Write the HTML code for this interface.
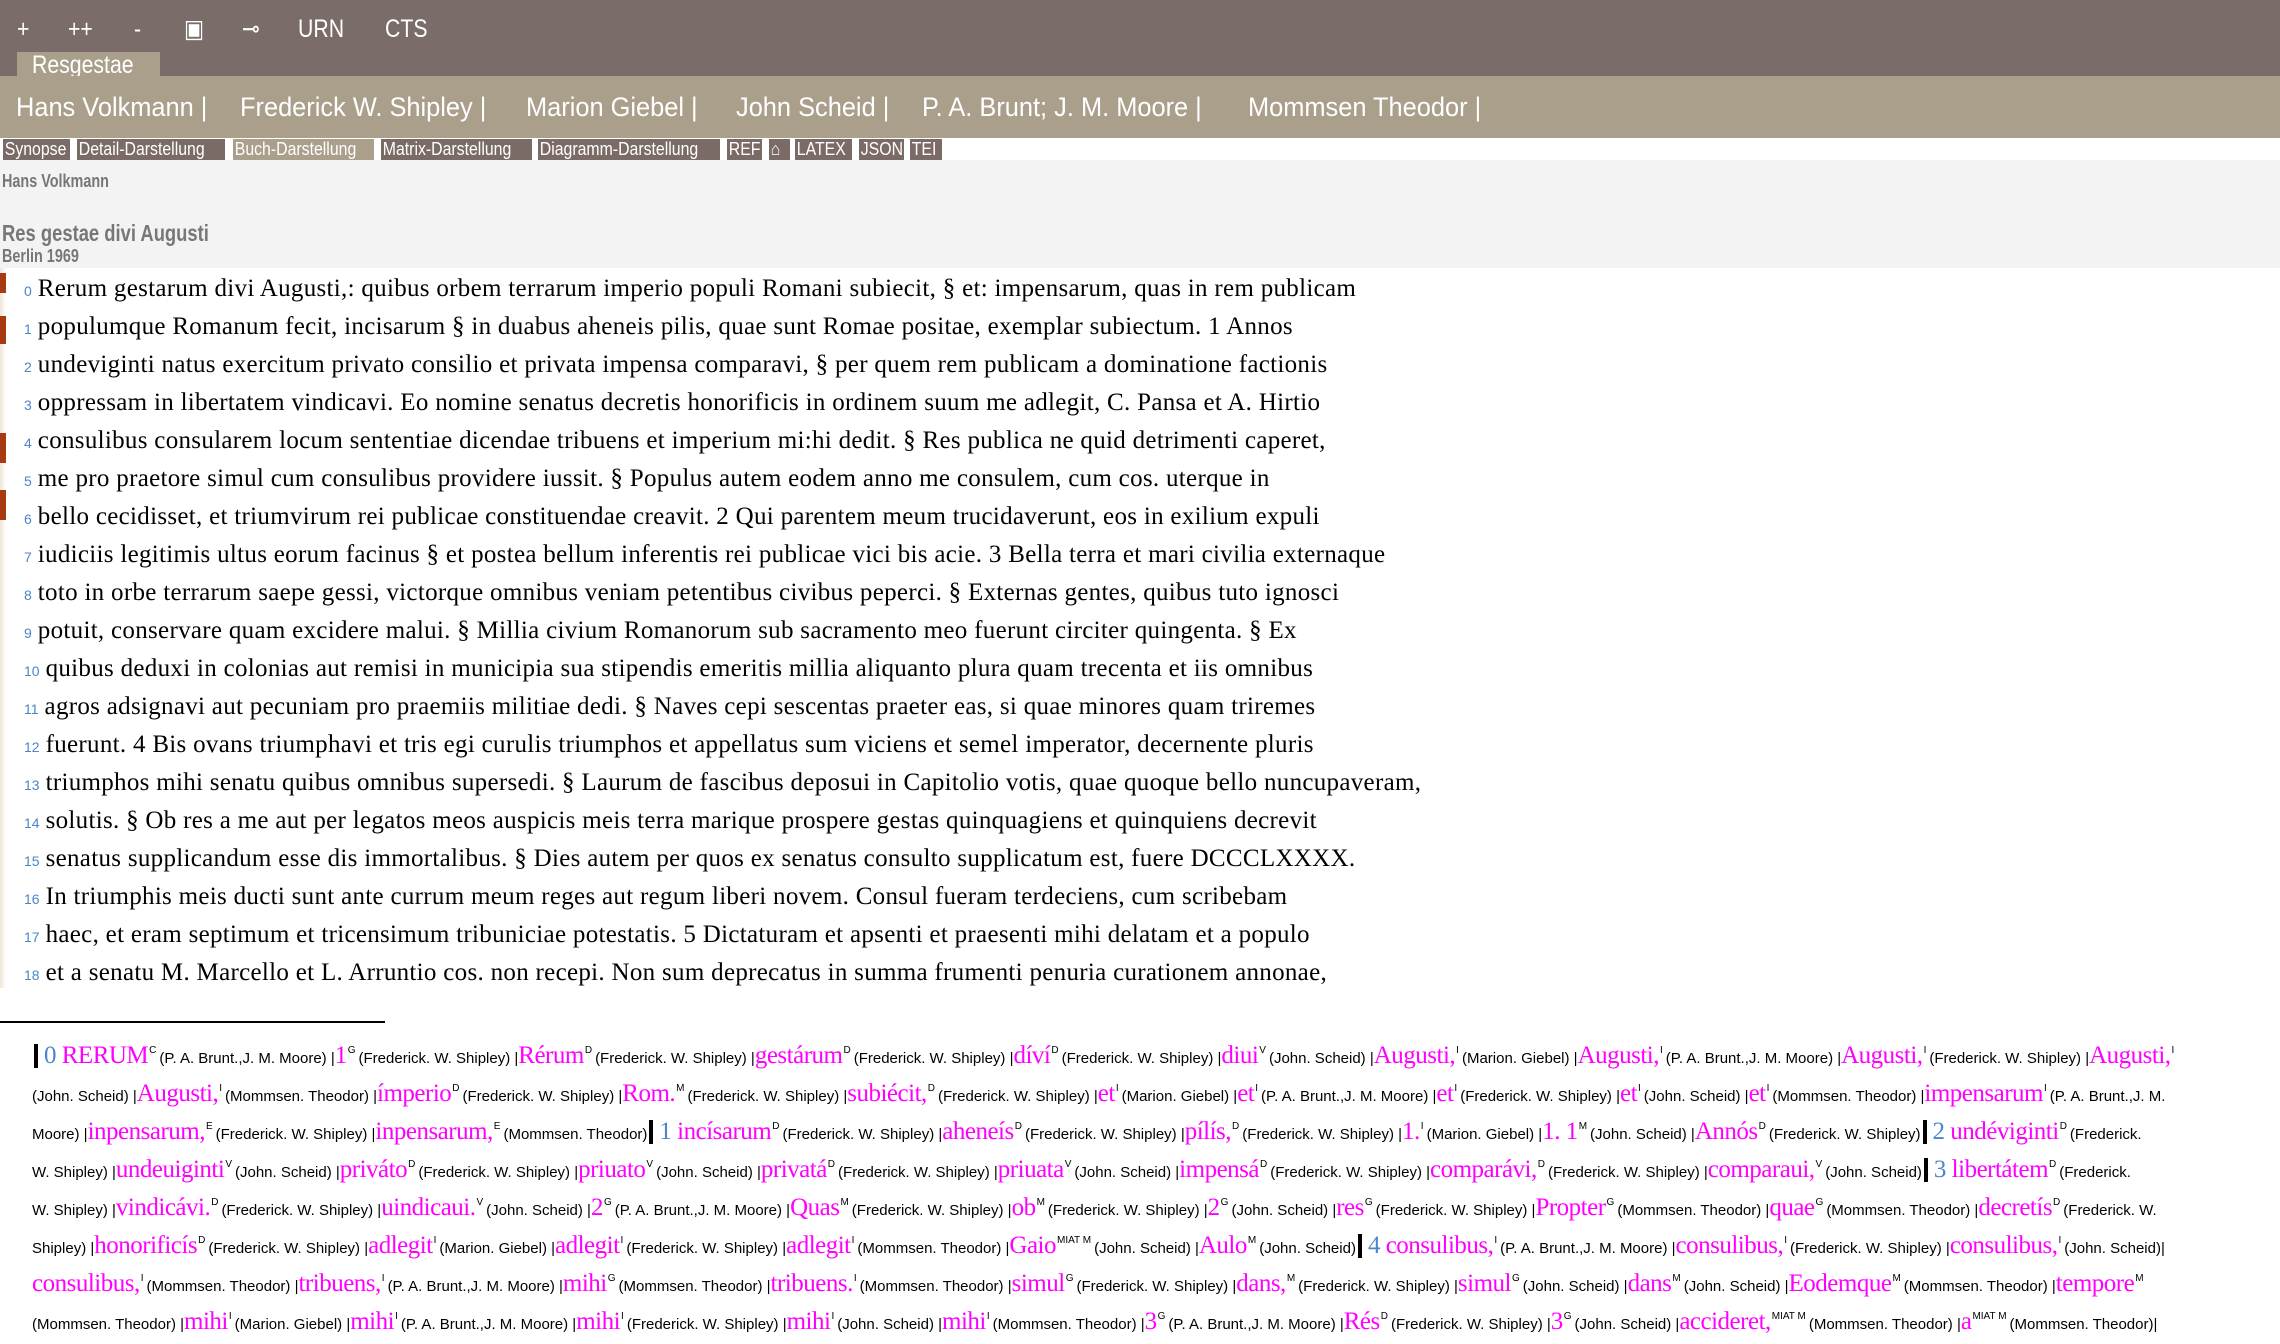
<!DOCTYPE html>
<html><head><meta charset="utf-8"><style>
*{margin:0;padding:0;box-sizing:border-box}
body{width:2280px;height:1336px;overflow:hidden;background:#fff;font-family:"Liberation Sans",sans-serif;position:relative}
.top{position:absolute;left:0;top:0;width:2280px;height:76px;background:#7a6c68}
.t{position:absolute;color:#fff;font-family:"Liberation Sans",sans-serif;font-size:25px;line-height:30px;transform:scaleX(.85);transform-origin:left}
.tab{position:absolute;left:17px;top:52px;width:143px;height:24px;background:#aa9f8b}
.auth{position:absolute;left:0;top:76px;width:2280px;height:62px;background:#aa9f8b}
.a{position:absolute;top:91px;color:#fff;font-family:"Liberation Sans",sans-serif;font-size:27px;line-height:32px;white-space:nowrap;transform:scaleX(.94);transform-origin:left}
.btns{position:absolute;left:0;top:138px;width:2280px;height:22px;background:#fff}
.b{position:absolute;top:139px;height:21px;background:#7b6b67;color:#fff;font-size:18px;line-height:21px;white-space:nowrap;overflow:hidden}
.b span{display:block;transform:scaleX(.88);transform-origin:left;padding-left:2px}
.grey{position:absolute;left:0;top:160px;width:2280px;height:108px;background:#f4f3f3}
.g{position:absolute;left:2px;color:#777;white-space:nowrap;font-weight:bold;transform:scaleX(.8);transform-origin:left}
.main{position:absolute;left:0;top:268px;width:2280px;height:720px;background:linear-gradient(90deg,#efe6d6 0,#fff 6px)}
.l{position:absolute;font-family:"Liberation Serif",serif;font-size:25px;letter-spacing:0.3px;line-height:38px;white-space:nowrap;color:#000}
.l i{font-style:normal;font-family:"Liberation Sans",sans-serif;color:#4a86c8;font-size:14px;margin-right:6px;letter-spacing:0}
.rm{position:absolute;left:0;width:6px;background:#a83a12}
.hr{position:absolute;left:0;top:1021px;width:385px;height:2px;background:#000}
.f{position:absolute;left:32px;font-family:"Liberation Serif",serif;font-size:25px;line-height:38px;white-space:nowrap;color:#000;letter-spacing:-0.5px}
.f m{color:#f0f;}
.f s{text-decoration:none;font-family:"Liberation Sans",sans-serif;font-size:15px;letter-spacing:0}
.f sup{font-family:"Liberation Sans",sans-serif;font-size:10px;color:#000;vertical-align:10px;margin:0 3px 0 1px;letter-spacing:0}
.f u{text-decoration:none;color:#4a86c8}
.f b{display:inline-block;width:4px;height:24px;background:#000;vertical-align:-5px;margin:0 6px 0 2px}
</style></head><body>
<div class="top"></div>
<div class="t" style="left:17px;top:14px">+</div>
<div class="t" style="left:68px;top:14px">++</div>
<div class="t" style="left:134px;top:14px">-</div>
<div class="t" style="left:184px;top:14px">▣</div>
<div class="t" style="left:242px;top:14px">⊸</div>
<div class="t" style="left:298px;top:14px">URN</div>
<div class="t" style="left:385px;top:14px">CTS</div>
<div class="tab"></div>
<div class="t" style="left:32px;top:50px">Resgestae</div>
<div class="auth"></div>
<div class="a" style="left:16px">Hans Volkmann |</div>
<div class="a" style="left:240px">Frederick W. Shipley |</div>
<div class="a" style="left:526px">Marion Giebel |</div>
<div class="a" style="left:736px">John Scheid |</div>
<div class="a" style="left:922px">P. A. Brunt; J. M. Moore |</div>
<div class="a" style="left:1248px">Mommsen Theodor |</div>
<div class="btns"></div>
<div class="b" style="left:3px;width:67px"><span>Synopse</span></div>
<div class="b" style="left:77px;width:148px"><span>Detail-Darstellung</span></div>
<div class="b" style="left:233px;width:141px;background:#aa9f8b"><span>Buch-Darstellung</span></div>
<div class="b" style="left:381px;width:151px"><span>Matrix-Darstellung</span></div>
<div class="b" style="left:538px;width:182px"><span>Diagramm-Darstellung</span></div>
<div class="b" style="left:727px;width:35px"><span>REF</span></div>
<div class="b" style="left:769px;width:21px"><span>⌂</span></div>
<div class="b" style="left:795px;width:57px"><span>LATEX</span></div>
<div class="b" style="left:859px;width:45px"><span>JSON</span></div>
<div class="b" style="left:910px;width:32px"><span>TEI</span></div>
<div class="grey"></div>
<div class="g" style="top:171px;font-size:18px">Hans Volkmann</div>
<div class="g" style="top:220px;font-size:23px">Res gestae divi Augusti</div>
<div class="g" style="top:246px;font-size:18px">Berlin 1969</div>
<div class="main"></div>
<div class="rm" style="top:273px;height:20px"></div>
<div class="rm" style="top:316px;height:28px"></div>
<div class="rm" style="top:433px;height:30px"></div>
<div class="rm" style="top:490px;height:30px"></div>
<div class="l" style="left:24px;top:270px"><i>0</i>Rerum gestarum divi Augusti,: quibus orbem terrarum imperio populi Romani subiecit, § et: impensarum, quas in rem publicam</div>
<div class="l" style="left:24px;top:308px"><i>1</i>populumque Romanum fecit, incisarum § in duabus aheneis pilis, quae sunt Romae positae, exemplar subiectum. 1 Annos</div>
<div class="l" style="left:24px;top:346px"><i>2</i>undeviginti natus exercitum privato consilio et privata impensa comparavi, § per quem rem publicam a dominatione factionis</div>
<div class="l" style="left:24px;top:384px"><i>3</i>oppressam in libertatem vindicavi. Eo nomine senatus decretis honorificis in ordinem suum me adlegit, C. Pansa et A. Hirtio</div>
<div class="l" style="left:24px;top:422px"><i>4</i>consulibus consularem locum sententiae dicendae tribuens et imperium mi:hi dedit. § Res publica ne quid detrimenti caperet,</div>
<div class="l" style="left:24px;top:460px"><i>5</i>me pro praetore simul cum consulibus providere iussit. § Populus autem eodem anno me consulem, cum cos. uterque in</div>
<div class="l" style="left:24px;top:498px"><i>6</i>bello cecidisset, et triumvirum rei publicae constituendae creavit. 2 Qui parentem meum trucidaverunt, eos in exilium expuli</div>
<div class="l" style="left:24px;top:536px"><i>7</i>iudiciis legitimis ultus eorum facinus § et postea bellum inferentis rei publicae vici bis acie. 3 Bella terra et mari civilia externaque</div>
<div class="l" style="left:24px;top:574px"><i>8</i>toto in orbe terrarum saepe gessi, victorque omnibus veniam petentibus civibus peperci. § Externas gentes, quibus tuto ignosci</div>
<div class="l" style="left:24px;top:612px"><i>9</i>potuit, conservare quam excidere malui. § Millia civium Romanorum sub sacramento meo fuerunt circiter quingenta. § Ex</div>
<div class="l" style="left:24px;top:650px"><i>10</i>quibus deduxi in colonias aut remisi in municipia sua stipendis emeritis millia aliquanto plura quam trecenta et iis omnibus</div>
<div class="l" style="left:24px;top:688px"><i>11</i>agros adsignavi aut pecuniam pro praemiis militiae dedi. § Naves cepi sescentas praeter eas, si quae minores quam triremes</div>
<div class="l" style="left:24px;top:726px"><i>12</i>fuerunt. 4 Bis ovans triumphavi et tris egi curulis triumphos et appellatus sum viciens et semel imperator, decernente pluris</div>
<div class="l" style="left:24px;top:764px"><i>13</i>triumphos mihi senatu quibus omnibus supersedi. § Laurum de fascibus deposui in Capitolio votis, quae quoque bello nuncupaveram,</div>
<div class="l" style="left:24px;top:802px"><i>14</i>solutis. § Ob res a me aut per legatos meos auspicis meis terra marique prospere gestas quinquagiens et quinquiens decrevit</div>
<div class="l" style="left:24px;top:840px"><i>15</i>senatus supplicandum esse dis immortalibus. § Dies autem per quos ex senatus consulto supplicatum est, fuere DCCCLXXXX.</div>
<div class="l" style="left:24px;top:878px"><i>16</i>In triumphis meis ducti sunt ante currum meum reges aut regum liberi novem. Consul fueram terdeciens, cum scribebam</div>
<div class="l" style="left:24px;top:916px"><i>17</i>haec, et eram septimum et tricensimum tribuniciae potestatis. 5 Dictaturam et apsenti et praesenti mihi delatam et a populo</div>
<div class="l" style="left:24px;top:954px"><i>18</i>et a senatu M. Marcello et L. Arruntio cos. non recepi. Non sum deprecatus in summa frumenti penuria curationem annonae,</div>
<div class="hr"></div>
<div class="f" style="top:1032px"><b></b><u>0</u> <m>RERUM</m><sup>C</sup><s>(P. A. Brunt.,J. M. Moore) |</s><m>1</m><sup>G</sup><s>(Frederick. W. Shipley) |</s><m>Rérum</m><sup>D</sup><s>(Frederick. W. Shipley) |</s><m>gestárum</m><sup>D</sup><s>(Frederick. W. Shipley) |</s><m>díví</m><sup>D</sup><s>(Frederick. W. Shipley) |</s><m>diui</m><sup>V</sup><s>(John. Scheid) |</s><m>Augusti,</m><sup>I</sup><s>(Marion. Giebel) |</s><m>Augusti,</m><sup>I</sup><s>(P. A. Brunt.,J. M. Moore) |</s><m>Augusti,</m><sup>I</sup><s>(Frederick. W. Shipley) |</s><m>Augusti,</m><sup>I</sup></div>
<div class="f" style="top:1070px"><s>(John. Scheid) |</s><m>Augusti,</m><sup>I</sup><s>(Mommsen. Theodor) |</s><m>ímperio</m><sup>D</sup><s>(Frederick. W. Shipley) |</s><m>Rom.</m><sup>M</sup><s>(Frederick. W. Shipley) |</s><m>subiécit,</m><sup>D</sup><s>(Frederick. W. Shipley) |</s><m>et</m><sup>I</sup><s>(Marion. Giebel) |</s><m>et</m><sup>I</sup><s>(P. A. Brunt.,J. M. Moore) |</s><m>et</m><sup>I</sup><s>(Frederick. W. Shipley) |</s><m>et</m><sup>I</sup><s>(John. Scheid) |</s><m>et</m><sup>I</sup><s>(Mommsen. Theodor) |</s><m>impensarum</m><sup>I</sup><s>(P. A. Brunt.,J. M.</s></div>
<div class="f" style="top:1108px"><s>Moore) |</s><m>inpensarum,</m><sup>E</sup><s>(Frederick. W. Shipley) |</s><m>inpensarum,</m><sup>E</sup><s>(Mommsen. Theodor)</s><b></b><u>1</u> <m>incísarum</m><sup>D</sup><s>(Frederick. W. Shipley) |</s><m>aheneís</m><sup>D</sup><s>(Frederick. W. Shipley) |</s><m>pílís,</m><sup>D</sup><s>(Frederick. W. Shipley) |</s><m>1.</m><sup>I</sup><s>(Marion. Giebel) |</s><m>1. 1</m><sup>M</sup><s>(John. Scheid) |</s><m>Annós</m><sup>D</sup><s>(Frederick. W. Shipley)</s><b></b><u>2</u> <m>undéviginti</m><sup>D</sup><s>(Frederick.</s></div>
<div class="f" style="top:1146px"><s>W. Shipley) |</s><m>undeuiginti</m><sup>V</sup><s>(John. Scheid) |</s><m>priváto</m><sup>D</sup><s>(Frederick. W. Shipley) |</s><m>priuato</m><sup>V</sup><s>(John. Scheid) |</s><m>privatá</m><sup>D</sup><s>(Frederick. W. Shipley) |</s><m>priuata</m><sup>V</sup><s>(John. Scheid) |</s><m>impensá</m><sup>D</sup><s>(Frederick. W. Shipley) |</s><m>comparávi,</m><sup>D</sup><s>(Frederick. W. Shipley) |</s><m>comparaui,</m><sup>V</sup><s>(John. Scheid)</s><b></b><u>3</u> <m>libertátem</m><sup>D</sup><s>(Frederick.</s></div>
<div class="f" style="top:1184px"><s>W. Shipley) |</s><m>vindicávi.</m><sup>D</sup><s>(Frederick. W. Shipley) |</s><m>uindicaui.</m><sup>V</sup><s>(John. Scheid) |</s><m>2</m><sup>G</sup><s>(P. A. Brunt.,J. M. Moore) |</s><m>Quas</m><sup>M</sup><s>(Frederick. W. Shipley) |</s><m>ob</m><sup>M</sup><s>(Frederick. W. Shipley) |</s><m>2</m><sup>G</sup><s>(John. Scheid) |</s><m>res</m><sup>G</sup><s>(Frederick. W. Shipley) |</s><m>Propter</m><sup>G</sup><s>(Mommsen. Theodor) |</s><m>quae</m><sup>G</sup><s>(Mommsen. Theodor) |</s><m>decretís</m><sup>D</sup><s>(Frederick. W.</s></div>
<div class="f" style="top:1222px"><s>Shipley) |</s><m>honorificís</m><sup>D</sup><s>(Frederick. W. Shipley) |</s><m>adlegit</m><sup>I</sup><s>(Marion. Giebel) |</s><m>adlegit</m><sup>I</sup><s>(Frederick. W. Shipley) |</s><m>adlegit</m><sup>I</sup><s>(Mommsen. Theodor) |</s><m>Gaio</m><sup>MIAT M</sup><s>(John. Scheid) |</s><m>Aulo</m><sup>M</sup><s>(John. Scheid)</s><b></b><u>4</u> <m>consulibus,</m><sup>I</sup><s>(P. A. Brunt.,J. M. Moore) |</s><m>consulibus,</m><sup>I</sup><s>(Frederick. W. Shipley) |</s><m>consulibus,</m><sup>I</sup><s>(John. Scheid)|</s></div>
<div class="f" style="top:1260px"><m>consulibus,</m><sup>I</sup><s>(Mommsen. Theodor) |</s><m>tribuens,</m><sup>I</sup><s>(P. A. Brunt.,J. M. Moore) |</s><m>mihi</m><sup>G</sup><s>(Mommsen. Theodor) |</s><m>tribuens.</m><sup>I</sup><s>(Mommsen. Theodor) |</s><m>simul</m><sup>G</sup><s>(Frederick. W. Shipley) |</s><m>dans,</m><sup>M</sup><s>(Frederick. W. Shipley) |</s><m>simul</m><sup>G</sup><s>(John. Scheid) |</s><m>dans</m><sup>M</sup><s>(John. Scheid) |</s><m>Eodemque</m><sup>M</sup><s>(Mommsen. Theodor) |</s><m>tempore</m><sup>M</sup></div>
<div class="f" style="top:1298px"><s>(Mommsen. Theodor) |</s><m>mihi</m><sup>I</sup><s>(Marion. Giebel) |</s><m>mihi</m><sup>I</sup><s>(P. A. Brunt.,J. M. Moore) |</s><m>mihi</m><sup>I</sup><s>(Frederick. W. Shipley) |</s><m>mihi</m><sup>I</sup><s>(John. Scheid) |</s><m>mihi</m><sup>I</sup><s>(Mommsen. Theodor) |</s><m>3</m><sup>G</sup><s>(P. A. Brunt.,J. M. Moore) |</s><m>Rés</m><sup>D</sup><s>(Frederick. W. Shipley) |</s><m>3</m><sup>G</sup><s>(John. Scheid) |</s><m>accideret,</m><sup>MIAT M</sup><s>(Mommsen. Theodor) |</s><m>a</m><sup>MIAT M</sup><s>(Mommsen. Theodor)|</s></div>
</body></html>
